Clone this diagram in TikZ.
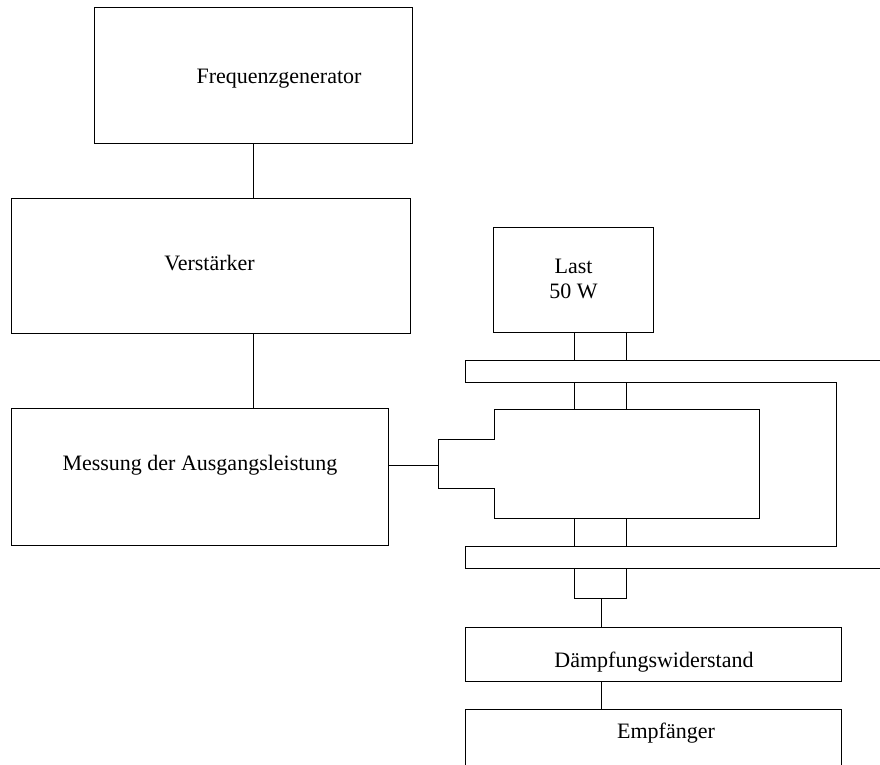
\documentclass[tikz,border=0pt]{standalone}
\usepackage{fontspec}
\setmainfont{Liberation Serif}
\begin{document}
\begin{tikzpicture}[x=1pt,y=-1pt,line width=1pt,
  box/.style={draw,rectangle,inner sep=0pt},
  lab/.style={inner sep=0pt,anchor=base,font=\fontsize{22}{25}\selectfont}]
\useasboundingbox (0,0) rectangle (880,764);
% boxes
\node[box,minimum width=318pt,minimum height=136pt] (fg) at (253,75) {};
\node[box,minimum width=399pt,minimum height=135pt] (vs) at (210.5,265.5) {};
\node[box,minimum width=377pt,minimum height=137pt] (ms) at (199.5,476.5) {};
\node[box,minimum width=160pt,minimum height=105pt] (last) at (573,279.5) {};
\node[box,minimum width=376pt,minimum height=54pt] (dw) at (653,654) {};
% Empfänger (cut by the lower edge)
\coordinate (emtl) at (465,709);
\coordinate (emtr) at (841,709);
\draw (465,770) -- (emtl) -- (emtr) -- (841,770);
% labels
\node[lab] (fgt) at (279,83) {Frequenzgenerator};
\node[lab] (vst) at (209.5,270) {Verstärker};
\node[lab] (mst) at (200,470) {Messung der Ausgangsleistung};
\node[lab] (lastt1) at (573.5,273) {Last};
\node[lab] (lastt2) at (573.5,298) {50 W};
\node[lab] (dwt) at (654,667) {Dämpfungswiderstand};
\node[lab] (emt) at (666,738) {Empfänger};
% connectors
\draw (fg.south) -- (vs.north -| fg.south);
\draw (vs.south -| fg.south) -- (ms.north -| fg.south);
% stepped measuring head
\coordinate (mh) at (438,465);
\draw (494,409) -- (759,409) -- (759,518) -- (494,518) -- (494,488) -- (438,488) -- (438,439) -- (494,439) -- cycle;
\draw (ms.east |- mh) -- (mh);
% coaxial U-shaped line
\draw (880,360) -- (465,360) -- (465,382) -- (836,382) -- (836,546) -- (465,546) -- (465,568) -- (880,568);
% inner conductor pair
\draw (574,332) -- (574,360) (626,332) -- (626,360);
\draw (574,382) -- (574,409) (626,382) -- (626,409);
\draw (574,518) -- (574,546) (626,518) -- (626,546);
\draw (574,568) -- (574,598) -- (626,598) -- (626,568);
\coordinate (cb) at (601,598);
\draw (cb) -- (dw.north -| cb);
\draw (dw.south -| cb) -- (emtl -| cb);
\end{tikzpicture}
\end{document}
